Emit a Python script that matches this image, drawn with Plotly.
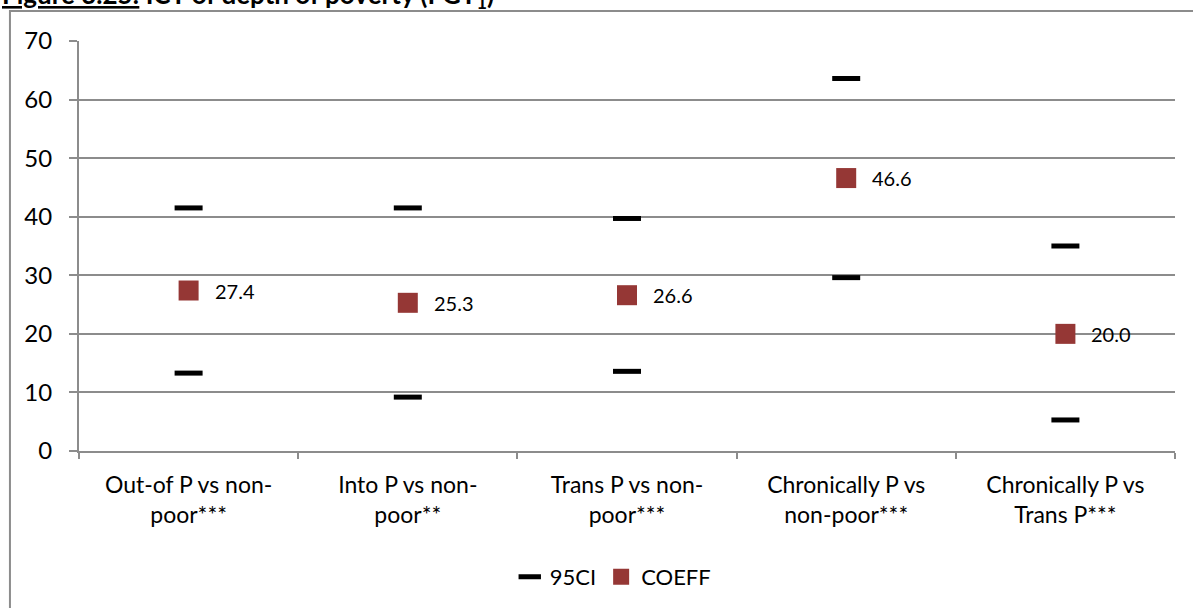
import plotly.graph_objects as go

categories = [
    "Out-of P vs non-<br>poor***",
    "Into P vs non-<br>poor**",
    "Trans P vs non-<br>poor***",
    "Chronically P vs<br>non-poor***",
    "Chronically P vs<br>Trans P***",
]
coeff = [27.4, 25.3, 26.6, 46.6, 20.0]
ci_upper = [41.5, 41.5, 39.7, 63.6, 35.0]
ci_lower = [13.3, 9.2, 13.6, 29.6, 5.3]
y_ticks = [0, 10, 20, 30, 40, 50, 60, 70]

FONT = "Lato"
GRID = "#8c8c8c"

fig = go.Figure()

# confidence bounds drawn as short horizontal dashes
fig.add_trace(go.Scatter(
    x=categories + categories,
    y=ci_upper + ci_lower,
    mode="markers",
    name="95CI",
    marker=dict(symbol="line-ew", size=20, color="black",
                line=dict(color="black", width=5)),
    hoverinfo="y",
))

# point estimates
fig.add_trace(go.Scatter(
    x=categories,
    y=coeff,
    mode="markers",
    name="COEFF",
    marker=dict(symbol="square", size=20, color="#953735",
                line=dict(width=0)),
))

for c, v in zip(categories, coeff):
    fig.add_annotation(
        x=c, y=v, text=f"{v:.1f}", showarrow=False,
        xanchor="left", yanchor="middle", xshift=24,
        font=dict(family=FONT, size=20, color="black"),
    )

# chart title (partly above the page)
fig.add_annotation(
    xref="paper", yref="paper", x=-0.072, y=1.064,
    xanchor="left", yanchor="bottom", showarrow=False,
    text="<b><u>Figure 3.25:</u> ICT of depth of poverty (FGT<sub>1</sub>)</b>",
    font=dict(family=FONT, size=26, color="black"),
)

# outer chart frame
fig.add_shape(
    type="rect", xref="paper", yref="paper",
    x0=-0.063, x1=1.2, y0=-0.6, y1=1.073,
    line=dict(color=GRID, width=2), fillcolor="rgba(0,0,0,0)",
    layer="below",
)

fig.update_layout(
    width=1193, height=608,
    margin=dict(l=79, r=18, t=41, b=156),
    paper_bgcolor="white", plot_bgcolor="white",
    font=dict(family=FONT, size=24, color="black"),
    showlegend=True,
    legend=dict(
        orientation="h", x=0.487, y=-0.304, xanchor="center", yanchor="middle",
        font=dict(family=FONT, size=22, color="black"),
        itemwidth=30, tracegroupgap=0,
    ),
    xaxis=dict(
        type="category", showgrid=False, showline=True, linecolor=GRID, linewidth=2,
        ticks="outside", tickson="boundaries", ticklen=6, tickcolor=GRID, tickwidth=1.5,
        tickfont=dict(family=FONT, size=23, color="black"),
        ticklabelstandoff=12,
        range=[-0.5, 4.5],
    ),
    yaxis=dict(
        range=[0, 70], tickvals=y_ticks, showgrid=True, gridcolor=GRID, gridwidth=1.5,
        showline=True, linecolor=GRID, linewidth=2, zeroline=False,
        ticks="outside", ticklen=8, tickcolor=GRID, tickwidth=1.5,
        ticklabelstandoff=12,
        tickfont=dict(family=FONT, size=24, color="black"),
    ),
)

fig.write_html("out.html")
